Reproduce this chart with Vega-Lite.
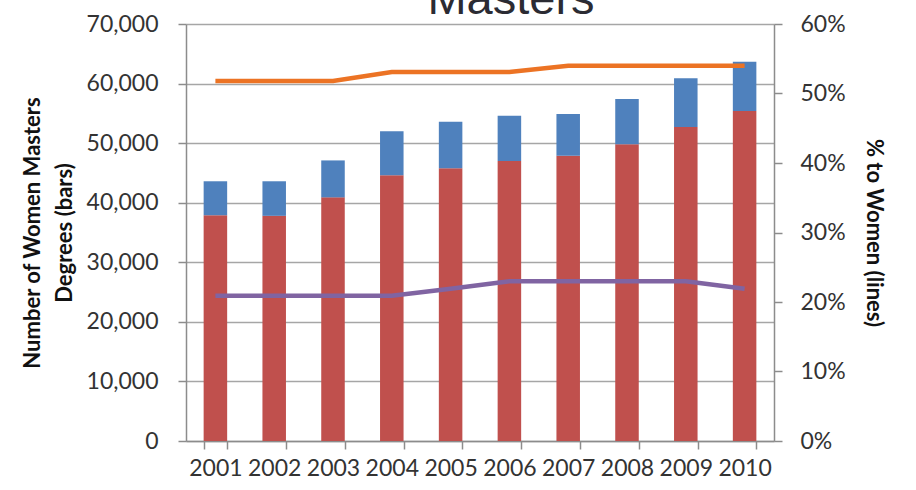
{
  "$schema": "https://vega.github.io/schema/vega-lite/v6.json",
  "width": 588,
  "height": 417,
  "autosize": {"type": "none"},
  "padding": {"left": 186, "top": 24, "right": 142, "bottom": 49},
  "background": "white",
  "title": {
    "text": "Masters",
    "font": "Liberation Sans",
    "fontSize": 47,
    "fontWeight": "normal",
    "color": "#2b2b33",
    "anchor": "middle",
    "baseline": "alphabetic",
    "offset": 0,
    "dy": 48,
    "dx": 31
  },
  "config": {
    "view": {"stroke": null},
    "axis": {
      "labelFont": "Lato",
      "labelFontSize": 23,
      "labelColor": "#333333",
      "titleFont": "Lato",
      "titleFontSize": 22,
      "titleFontWeight": "bold",
      "titleColor": "#111111",
      "domainColor": "#8c8c8c",
      "tickColor": "#8c8c8c",
      "gridColor": "#a6a6a6",
      "domainWidth": 1.5,
      "tickWidth": 1.5,
      "gridWidth": 1.5,
      "tickSize": 8
    }
  },
  "data": {
    "values": [
      {"year": "2001", "series": "Group 1", "kind": "bar", "value": 37900},
      {"year": "2002", "series": "Group 1", "kind": "bar", "value": 37800},
      {"year": "2003", "series": "Group 1", "kind": "bar", "value": 40900},
      {"year": "2004", "series": "Group 1", "kind": "bar", "value": 44600},
      {"year": "2005", "series": "Group 1", "kind": "bar", "value": 45800},
      {"year": "2006", "series": "Group 1", "kind": "bar", "value": 47000},
      {"year": "2007", "series": "Group 1", "kind": "bar", "value": 47900},
      {"year": "2008", "series": "Group 1", "kind": "bar", "value": 49800},
      {"year": "2009", "series": "Group 1", "kind": "bar", "value": 52700},
      {"year": "2010", "series": "Group 1", "kind": "bar", "value": 55400},
      {"year": "2001", "series": "Group 2", "kind": "bar", "value": 5700},
      {"year": "2002", "series": "Group 2", "kind": "bar", "value": 5800},
      {"year": "2003", "series": "Group 2", "kind": "bar", "value": 6200},
      {"year": "2004", "series": "Group 2", "kind": "bar", "value": 7400},
      {"year": "2005", "series": "Group 2", "kind": "bar", "value": 7800},
      {"year": "2006", "series": "Group 2", "kind": "bar", "value": 7600},
      {"year": "2007", "series": "Group 2", "kind": "bar", "value": 7000},
      {"year": "2008", "series": "Group 2", "kind": "bar", "value": 7600},
      {"year": "2009", "series": "Group 2", "kind": "bar", "value": 8200},
      {"year": "2010", "series": "Group 2", "kind": "bar", "value": 8250},
      {"year": "2001", "series": "Line 1", "kind": "line", "value": 0.518},
      {"year": "2002", "series": "Line 1", "kind": "line", "value": 0.518},
      {"year": "2003", "series": "Line 1", "kind": "line", "value": 0.518},
      {"year": "2004", "series": "Line 1", "kind": "line", "value": 0.531},
      {"year": "2005", "series": "Line 1", "kind": "line", "value": 0.531},
      {"year": "2006", "series": "Line 1", "kind": "line", "value": 0.531},
      {"year": "2007", "series": "Line 1", "kind": "line", "value": 0.540},
      {"year": "2008", "series": "Line 1", "kind": "line", "value": 0.540},
      {"year": "2009", "series": "Line 1", "kind": "line", "value": 0.540},
      {"year": "2010", "series": "Line 1", "kind": "line", "value": 0.540},
      {"year": "2001", "series": "Line 2", "kind": "line", "value": 0.209},
      {"year": "2002", "series": "Line 2", "kind": "line", "value": 0.209},
      {"year": "2003", "series": "Line 2", "kind": "line", "value": 0.209},
      {"year": "2004", "series": "Line 2", "kind": "line", "value": 0.209},
      {"year": "2005", "series": "Line 2", "kind": "line", "value": 0.219},
      {"year": "2006", "series": "Line 2", "kind": "line", "value": 0.230},
      {"year": "2007", "series": "Line 2", "kind": "line", "value": 0.230},
      {"year": "2008", "series": "Line 2", "kind": "line", "value": 0.230},
      {"year": "2009", "series": "Line 2", "kind": "line", "value": 0.230},
      {"year": "2010", "series": "Line 2", "kind": "line", "value": 0.219}
    ]
  },
  "encoding": {
    "x": {
      "field": "year",
      "type": "nominal",
      "scale": {"paddingInner": 0.6, "paddingOuter": 0.3},
      "axis": {
        "title": null,
        "labelAngle": 0,
        "tickBand": "extent",
        "labelPadding": 8,
        "grid": false
      }
    },
    "color": {
      "field": "series",
      "type": "nominal",
      "scale": {
        "domain": ["Group 1", "Group 2", "Line 1", "Line 2"],
        "range": ["#C0504D", "#4F81BD", "#EC7324", "#8064A2"]
      },
      "legend": null
    }
  },
  "layer": [
    {
      "transform": [{"filter": "datum.kind === 'bar'"}],
      "mark": {"type": "bar"},
      "encoding": {
        "y": {
          "field": "value",
          "type": "quantitative",
          "stack": "zero",
          "scale": {"domain": [0, 70000], "nice": false},
          "axis": {
            "values": [0, 10000, 20000, 30000, 40000, 50000, 60000, 70000],
            "format": ",.0f",
            "grid": true,
            "labelPadding": 20,
            "title": ["Number of Women Masters", "Degrees (bars)"],
            "titleLineHeight": 32,
            "titlePadding": 10
          }
        },
        "order": {"field": "series", "type": "nominal", "sort": "ascending"}
      }
    },
    {
      "transform": [{"filter": "datum.kind === 'line'"}],
      "mark": {"type": "line", "strokeWidth": 4.5},
      "encoding": {
        "y": {
          "field": "value",
          "type": "quantitative",
          "scale": {"domain": [0, 0.6], "nice": false},
          "axis": {
            "orient": "right",
            "values": [0, 0.1, 0.2, 0.3, 0.4, 0.5, 0.6],
            "format": ".0%",
            "grid": false,
            "labelPadding": 18,
            "title": "% to Women (lines)",
            "titlePadding": 16
          }
        }
      }
    }
  ],
  "resolve": {"scale": {"y": "independent"}}
}
